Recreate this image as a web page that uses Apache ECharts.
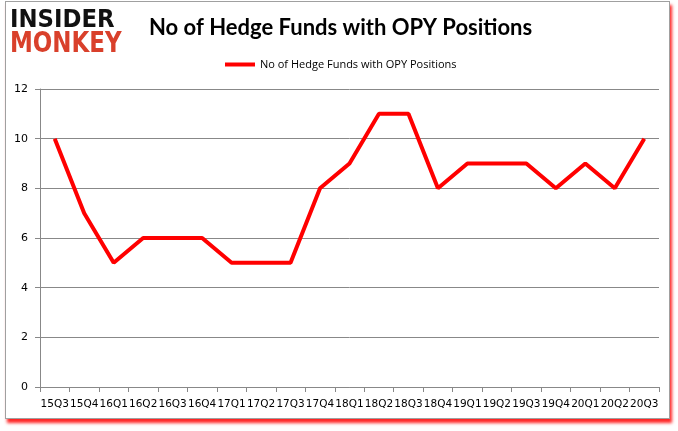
<!DOCTYPE html>
<html><head><meta charset="utf-8">
<script src="https://cdn.jsdelivr.net/npm/echarts@6/dist/echarts.min.js"></script>
<style>
html,body{margin:0;padding:0;background:#fff;}
#frame{position:absolute;left:5px;top:1px;width:663px;height:416px;border:1px solid #a0a0a0;box-shadow:2px 4px 3px rgba(255,0,0,0.85);background:#fff;}
#c{position:absolute;left:0;top:0;width:678px;height:431px;}
</style></head>
<body>
<div id="frame"></div>
<div id="c"></div>
<script>
var categories = ['15Q3','15Q4','16Q1','16Q2','16Q3','16Q4','17Q1','17Q2','17Q3','17Q4','18Q1','18Q2','18Q3','18Q4','19Q1','19Q2','19Q3','19Q4','20Q1','20Q2','20Q3'];
var values = [10,7,5,6,6,6,5,5,5,8,9,11,11,8,9,9,9,8,9,8,10];
var seriesName = 'No of Hedge Funds with OPY Positions';

var chart = echarts.init(document.getElementById('c'), null, {renderer:'canvas'});
chart.setOption({
  animation:false,
  backgroundColor:'transparent',
  title:{text:seriesName,left:144,top:12,textStyle:{fontFamily:'Lato',fontWeight:'bold',fontSize:22,color:'#000'}},
  graphic:[
    {type:'text',x:10,y:9,scaleX:0.95,style:{text:'INSIDER',fontFamily:'DejaVu Sans',fontWeight:'900',fontSize:24,fill:'#111'}},
    {type:'text',x:10,y:31,scaleX:0.82,style:{text:'MONKEY',fontFamily:'DejaVu Sans',fontWeight:'900',fontSize:28,fill:'#d9402b'}}
  ],
  legend:{top:54,left:220,itemWidth:30,itemHeight:4,itemGap:4,icon:'rect',
    textStyle:{fontFamily:'Open Sans',fontSize:11,color:'#000'},data:[seriesName]},
  grid:{left:40,right:19,top:89,bottom:44},
  xAxis:{type:'category',data:categories,boundaryGap:true,
    axisLine:{lineStyle:{color:'#888'}},
    axisTick:{show:true,interval:0,length:5,lineStyle:{color:'#888'}},
    axisLabel:{interval:0,color:'#000',fontFamily:'DejaVu Sans',fontSize:10.5,margin:12}},
  yAxis:{type:'value',min:0,max:12,interval:2,
    axisLine:{show:true,lineStyle:{color:'#888'}},
    axisTick:{show:true,length:5,lineStyle:{color:'#888'}},
    splitLine:{lineStyle:{color:'#888'}},
    axisLabel:{color:'#000',fontFamily:'DejaVu Sans',fontSize:11,margin:12}},
  series:[{name:seriesName,type:'line',data:values,symbol:'none',
    lineStyle:{color:'#ff0000',width:4},itemStyle:{color:'#ff0000'}}]
});
</script>
</body></html>
